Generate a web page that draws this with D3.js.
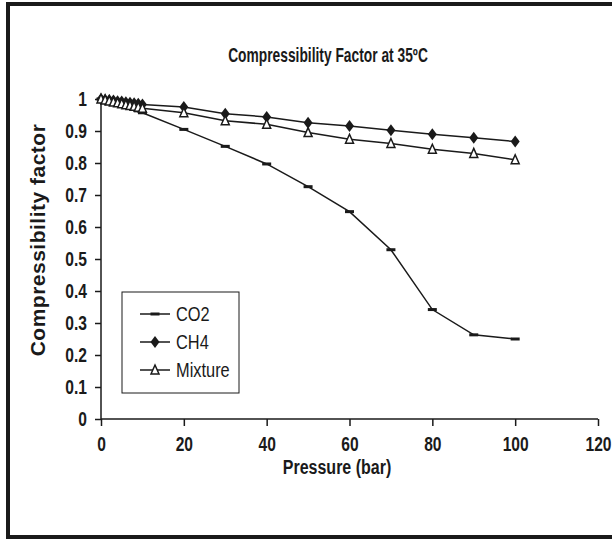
<!DOCTYPE html>
<html>
<head>
<meta charset="utf-8">
<script src="https://cdn.jsdelivr.net/npm/d3@7"></script>
<style>
  body { margin: 0; background: #fff; overflow: hidden; }
  svg { display: block; }
  svg text { font-family: "Liberation Sans", Arial, sans-serif; fill: #1a1a1a; }
</style>
</head>
<body>
<div id="main"></div>
<script>
// pressures (bar)
var pressure = [0, 1, 2, 3, 4, 5, 6, 7, 8, 9, 10, 20, 30, 40, 50, 60, 70, 80, 90, 100];

var co2 = [1.0, 0.996, 0.992, 0.989, 0.985, 0.981, 0.977, 0.973, 0.968, 0.963, 0.957,
           0.905, 0.852, 0.797, 0.726, 0.648, 0.529, 0.342, 0.263, 0.25];
var ch4 = [1.0, 0.998, 0.997, 0.995, 0.993, 0.992, 0.99, 0.988, 0.987, 0.985, 0.983,
           0.975, 0.954, 0.944, 0.926, 0.916, 0.902, 0.89, 0.879, 0.867];
var mixture = [1.0, 0.997, 0.994, 0.991, 0.988, 0.985, 0.982, 0.98, 0.977, 0.974, 0.971,
               0.957, 0.932, 0.921, 0.895, 0.874, 0.861, 0.843, 0.83, 0.81];

var xTicks = [0, 20, 40, 60, 80, 100, 120];
var yTicks = [0, 0.1, 0.2, 0.3, 0.4, 0.5, 0.6, 0.7, 0.8, 0.9, 1];

var seriesNames = ["CO2", "CH4", "Mixture"];

var width = 612, height = 539;
var ink = "#1a1a1a";
var narrow = 0.78; // no Arial Narrow here, squeeze Liberation Sans instead

var svg = d3.select("#main").append("svg")
  .attr("width", width)
  .attr("height", height);

// outer frame (right side runs off the picture)
svg.append("rect")
  .attr("x", 8).attr("y", 4)
  .attr("width", 620).attr("height", 533)
  .attr("fill", "none")
  .attr("stroke", ink)
  .attr("stroke-width", 4);

var x = d3.scaleLinear().domain([0, 120]).range([101, 598]);
var y = d3.scaleLinear().domain([0, 1]).range([419, 99]);

function narrowText(g, tx, ty, str, size, sx, anchor, weight) {
  return g.append("text")
    .attr("transform", "translate(" + tx + "," + ty + ") scale(" + sx + ",1)")
    .attr("text-anchor", anchor)
    .attr("font-size", size)
    .attr("font-weight", weight)
    .text(str);
}

// title
narrowText(svg, 328, 62, "Compressibility Factor at 35ºC", 20, 0.69, "middle", "bold");

// x axis
var xAxis = d3.axisBottom(x).tickValues(xTicks).tickSize(7).tickPadding(11)
  .tickFormat(d3.format("d"));
var gx = svg.append("g").attr("transform", "translate(0," + y(0) + ")").call(xAxis);
gx.select(".domain").attr("stroke", ink).attr("stroke-width", 1.5).attr("d", "M" + x(0) + ",0H" + x(120));
gx.selectAll(".tick line").attr("stroke", ink).attr("stroke-width", 1.5);
gx.selectAll(".tick text")
  .attr("font-size", 20).attr("font-weight", "bold")
  .attr("transform", "scale(" + narrow + ",1)")
  .style("font-family", "'Liberation Sans', Arial, sans-serif")
  .attr("fill", ink);

// y axis
var yAxis = d3.axisLeft(y).tickValues(yTicks).tickSize(6).tickPadding(8)
  .tickFormat(function(d) { return d === 0 || d === 1 ? d3.format("d")(d) : d3.format(".1f")(d); });
var gy = svg.append("g").attr("transform", "translate(" + x(0) + ",0)").call(yAxis);
gy.select(".domain").attr("stroke", ink).attr("stroke-width", 1.5).attr("d", "M0," + y(0) + "V" + y(1));
gy.selectAll(".tick line").attr("stroke", ink).attr("stroke-width", 1.5);
gy.selectAll(".tick text")
  .attr("font-size", 20).attr("font-weight", "bold")
  .attr("x", -14 / narrow)
  .attr("transform", "scale(" + narrow + ",1)")
  .style("font-family", "'Liberation Sans', Arial, sans-serif")
  .attr("fill", ink);

// axis titles
narrowText(svg, 337, 474, "Pressure (bar)", 20, 0.8, "middle", "bold");

svg.append("text")
  .attr("transform", "translate(45,240) rotate(-90)")
  .attr("text-anchor", "middle")
  .attr("font-size", 21)
  .attr("font-weight", "bold")
  .attr("letter-spacing", 0.5)
  .text("Compressibility factor");

// lines
var line = d3.line()
  .x(function(d, i) { return x(pressure[i]); })
  .y(function(d) { return y(d); });

var data = [co2, ch4, mixture];

data.forEach(function(vals) {
  svg.append("path")
    .datum(vals)
    .attr("d", line)
    .attr("fill", "none")
    .attr("stroke", ink)
    .attr("stroke-width", 1.5);
});

// markers
function drawMarker(g, kind, cx, cy) {
  if (kind === 0) {
    g.append("rect")
      .attr("x", cx - 4.5).attr("y", cy - 1.5)
      .attr("width", 9).attr("height", 3)
      .attr("fill", ink);
  } else if (kind === 1) {
    g.append("path")
      .attr("d", "M" + cx + "," + (cy - 6) + "L" + (cx + 4.5) + "," + cy + "L" + cx + "," + (cy + 6) + "L" + (cx - 4.5) + "," + cy + "Z")
      .attr("fill", ink);
  } else {
    g.append("path")
      .attr("d", "M" + cx + "," + (cy - 5) + "L" + (cx + 4) + "," + (cy + 4) + "L" + (cx - 4) + "," + (cy + 4) + "Z")
      .attr("fill", "#fff")
      .attr("stroke", ink)
      .attr("stroke-width", 1.5);
  }
}

var gm = svg.append("g");
data.forEach(function(vals, k) {
  vals.forEach(function(v, i) {
    drawMarker(gm, k, x(pressure[i]), y(v));
  });
});

// legend
var lg = svg.append("g");
lg.append("rect")
  .attr("x", 122).attr("y", 292)
  .attr("width", 117).attr("height", 101)
  .attr("fill", "#fff")
  .attr("stroke", ink)
  .attr("stroke-width", 1);

seriesNames.forEach(function(name, k) {
  var ly = 314 + k * 28;
  lg.append("line")
    .attr("x1", 140).attr("x2", 170)
    .attr("y1", ly).attr("y2", ly)
    .attr("stroke", ink).attr("stroke-width", 1.5);
  drawMarker(lg, k, 155, ly);
  narrowText(lg, 176, ly + 7, name, 20, 0.82, "start", "normal");
});
</script>
</body>
</html>
